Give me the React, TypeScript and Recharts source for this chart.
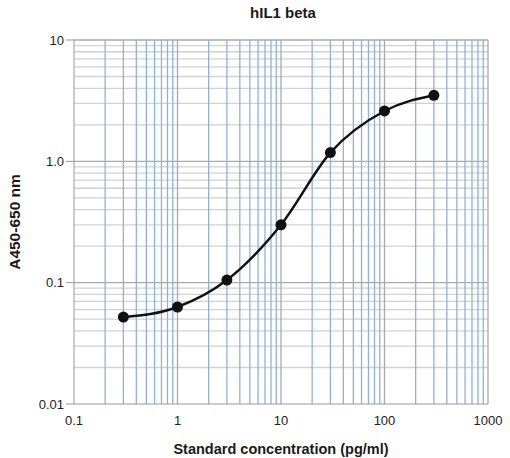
import React from 'react'
import { ComposedChart, Line, XAxis, YAxis, ReferenceLine } from 'recharts'

// standard curve points (pg/ml vs absorbance)
const concentrations = [0.3, 1, 3, 10, 30, 100, 300]
const absorbance = [0.052, 0.063, 0.105, 0.3, 1.18, 2.6, 3.5]

const xTicks = [0.1, 1, 10, 100, 1000]
const yTicks = [0.01, 0.1, 1, 10]
const yTickLabels = ['0.01', '0.1', '1.0', '10']

// minor grid steps inside each decade
const minorSteps = [2, 3, 4, 5, 6, 7, 8, 9]

const xMinor = xTicks.slice(0, -1).flatMap(d => minorSteps.map(m => +(d * m).toPrecision(3)))
const yMinor = yTicks.slice(0, -1).flatMap(d => minorSteps.map(m => +(d * m).toPrecision(3)))

const data = concentrations.map((c, i) => ({ conc: c, abs: absorbance[i] }))

const FONT = '"Liberation Sans", Arial, Helvetica, sans-serif'

export default function App() {
  return (
    <div style={{ position: 'absolute', left: 0, top: 0, width: 510, height: 458, background: '#fff', fontFamily: FONT }}>
      <div style={{ position: 'absolute', left: 0, width: 510, top: 4, textAlign: 'center', paddingLeft: 56, boxSizing: 'border-box', fontSize: 15, fontWeight: 'bold', color: '#1a1a1a' }}>
        hIL1 beta
      </div>
      <ComposedChart
        width={510}
        height={458}
        data={data}
        margin={{ top: 40, right: 22, left: 0, bottom: 0 }}
      >
        <XAxis
          dataKey="conc"
          type="number"
          scale="log"
          domain={[0.1, 1000]}
          ticks={xTicks}
          allowDataOverflow
          height={54}
          tickLine={false}
          stroke="#999"
          tick={{ fontSize: 13, fill: '#222', fontFamily: FONT }}
          tickMargin={6}
          label={{ value: 'Standard concentration (pg/ml)', position: 'insideBottom', offset: 4, style: { fontSize: 14.5, fontWeight: 'bold', fill: '#1a1a1a', fontFamily: FONT } }}
        />
        <YAxis
          type="number"
          scale="log"
          domain={[0.01, 10]}
          ticks={yTicks}
          allowDataOverflow
          width={74}
          stroke="#999"
          tickSize={8}
          tickFormatter={(v) => yTickLabels[yTicks.indexOf(v)] ?? String(v)}
          tick={{ fontSize: 13, fill: '#222', fontFamily: FONT }}
          label={{ value: 'A450-650 nm', angle: -90, position: 'insideLeft', offset: 14, style: { textAnchor: 'middle', fontSize: 15.5, fontWeight: 'bold', fill: '#1a1a1a', fontFamily: FONT } }}
        />
        {yMinor.map(v => (
          <ReferenceLine key={`ym-${v}`} y={v} stroke="#d2d2d2" strokeWidth={1.3} />
        ))}
        {yTicks.slice(1).map(v => (
          <ReferenceLine key={`yd-${v}`} y={v} stroke="#aaa" strokeWidth={1.3} />
        ))}
        {xMinor.map(v => (
          <ReferenceLine key={`xm-${v}`} x={v} stroke="#8fb2dc" strokeWidth={1.3} />
        ))}
        {xTicks.slice(1, -1).map(v => (
          <ReferenceLine key={`xd-${v}`} x={v} stroke="#aaa" strokeWidth={1.3} />
        ))}
        <ReferenceLine x={1000} stroke="#aaa" strokeWidth={1.3} />
        <Line
          dataKey="abs"
          type="monotone"
          stroke="#111"
          strokeWidth={2.5}
          dot={{ r: 5.5, fill: '#111', stroke: '#111', strokeWidth: 0 }}
          isAnimationActive={false}
        />
      </ComposedChart>
    </div>
  )
}
